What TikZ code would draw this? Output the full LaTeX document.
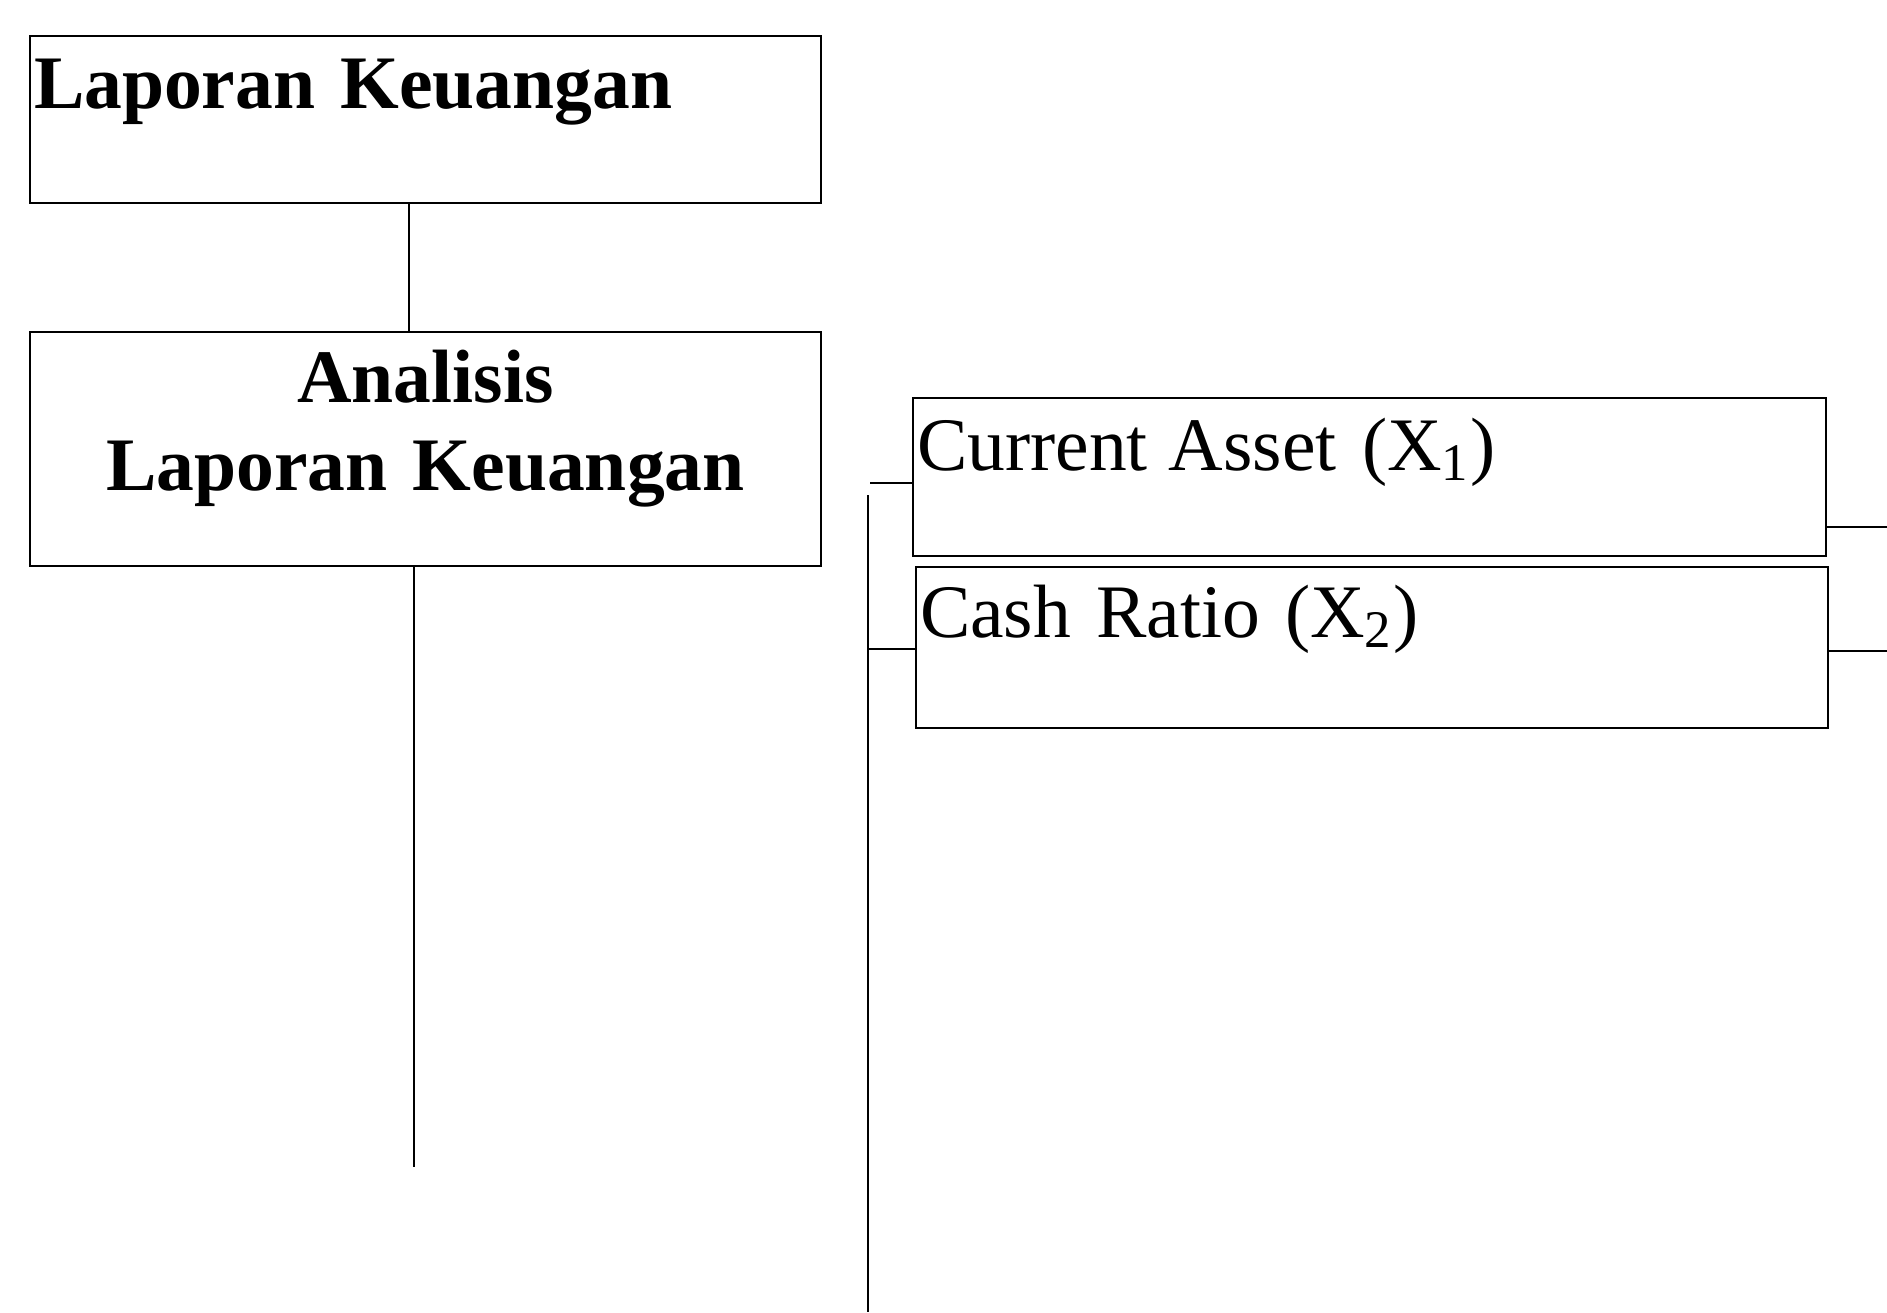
\documentclass[tikz,border=0pt]{standalone}
\usepackage{fontspec}
\setmainfont{Liberation Serif}
\usetikzlibrary{calc, positioning}
\newcommand{\lapWords}[1]{\spaceskip #1em\relax}
\tikzset{
    lapBox/.style={draw, line width=0.6pt, anchor=north west, outer sep=0pt, inner xsep=0.04cm, inner ysep=0pt, align=left, font=\fontsize{21.5}{25}\selectfont\lapWords{0.17}},
    lapTitle/.style={lapBox, font=\fontsize{21.5}{25.3}\selectfont\bfseries\lapWords{0.2}},
    lapLine/.style={line width=0.6pt},
}

\begin{document}
\begin{tikzpicture}
    \useasboundingbox (0,0) rectangle (18.87,-13.12);

    % kolom kiri
    \node[lapTitle, minimum width=7.91cm, text width=7.83cm, text height=0.72cm, text depth=0.95cm] (LK) at (0.30,-0.36) {Laporan Keuangan};
    \node[lapTitle, align=center, minimum width=7.91cm, text width=7.83cm, text height=0.70cm, text depth=1.64cm] (ALK) at (0.30,-3.32) {Analisis\\Laporan Keuangan};

    \coordinate (ALKend) at ($(ALK.south)+(-0.115,-6.01)$);
    \draw[lapLine] ([xshift=-0.165cm]LK.south) -- ([xshift=-0.165cm]ALK.north);
    \draw[lapLine] ([xshift=-0.115cm]ALK.south) -- (ALKend);

    % kolom kanan
    \node[lapBox, minimum width=9.13cm, text width=9.05cm, text height=0.72cm, text depth=0.86cm] (CA) at (9.13,-3.98) {Current\hspace{0.28em}Asset (X\textsubscript{1})};
    \node[lapBox, minimum width=9.12cm, text width=9.04cm, text height=0.70cm, text depth=0.91cm] (CR) at (9.16,-5.67) {Cash Ratio (X\textsubscript{2})};

    % garis penghubung
    \coordinate (busTop) at (8.68,-4.95);
    \coordinate (busEnd) at (8.68,-13.12);
    \coordinate (rightEdge) at (18.87,0);
    \coordinate (caIn) at ([yshift=-0.85cm]CA.north west);
    \coordinate (crIn) at ([yshift=-0.82cm]CR.north west);
    \coordinate (caOut) at ([yshift=-1.29cm]CA.north east);
    \coordinate (crOut) at ([yshift=-0.84cm]CR.north east);

    \draw[lapLine] (busTop) -- (busEnd);
    \draw[lapLine] (caIn) -- ++(-0.43,0);
    \draw[lapLine] (crIn) -- (crIn -| busTop);
    \draw[lapLine] (caOut) -- (caOut -| rightEdge);
    \draw[lapLine] (crOut) -- (crOut -| rightEdge);

\end{tikzpicture}
\end{document}
